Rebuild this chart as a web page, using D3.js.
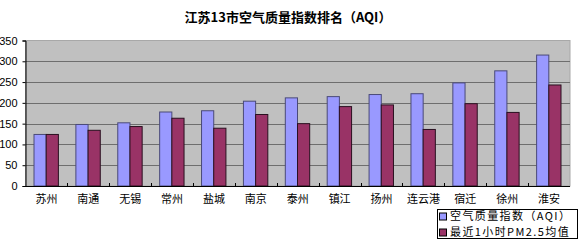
<!DOCTYPE html>
<html>
<head>
<meta charset="utf-8">
<script src="https://cdn.jsdelivr.net/npm/d3@7"></script>
<style>
  body { margin: 0; background: #fff; }
  svg { display: block; }
</style>
</head>
<body>
<div id="chart"></div>
<script>
// data
var cities = ["苏州", "南通", "无锡", "常州", "盐城", "南京", "泰州", "镇江", "扬州", "连云港", "宿迁", "徐州", "淮安"];
var aqi = [124, 148, 152, 178, 181, 204, 212, 215, 220, 222, 248, 277, 315];
var pm25 = [124, 134, 143, 163, 139, 172, 150, 191, 195, 136, 198, 177, 243];
var seriesNames = ["空气质量指数（AQI）", "最近1小时PM2.5均值"];
var yTicks = [0, 50, 100, 150, 200, 250, 300, 350];

var width = 580, height = 241;
var plotLeft = 25.5, plotRight = 570, plotTop = 40.5, plotBottom = 186;
var colors = ["#9999ff", "#993366"];
var cjk = "'Noto Sans CJK SC', sans-serif";

var svg = d3.select("#chart").append("svg")
    .attr("width", width)
    .attr("height", height);

var x = d3.scaleBand().domain(cities).range([plotLeft, plotRight]);
var x1 = d3.scaleBand().domain([0, 1]).range([8.5, x.bandwidth() - 9]);
var y = d3.scaleLinear().domain([0, 350]).range([plotBottom, plotTop]);

//title
svg.append("text")
    .attr("x", 288)
    .attr("y", 22)
    .attr("text-anchor", "middle")
    .attr("font-family", cjk)
    .style("font-size", "13px")
    .style("font-weight", "bold")
    .attr("fill", "#000")
    .text("江苏13市空气质量指数排名（AQI）");

//grey plot area
svg.append("rect")
    .attr("x", plotLeft)
    .attr("y", plotTop)
    .attr("width", plotRight - plotLeft)
    .attr("height", plotBottom - plotTop)
    .attr("fill", "#c0c0c0")
    .attr("stroke", "#a8a8a8");

//gridlines
svg.append("g")
    .selectAll("line")
    .data(yTicks.slice(1, -1))
    .enter().append("line")
    .attr("x1", plotLeft)
    .attr("x2", plotRight)
    .attr("y1", function(d) { return Math.round(y(d)) + 0.5; })
    .attr("y2", function(d) { return Math.round(y(d)) + 0.5; })
    .attr("stroke", "#6e6e6e")
    .attr("stroke-width", 1.2);

//bars
var groups = svg.append("g")
    .selectAll("g")
    .data(cities)
    .enter().append("g")
    .attr("transform", function(d) { return "translate(" + x(d) + ",0)"; });

groups.selectAll("rect")
    .data(function(d, i) { return [aqi[i], pm25[i]]; })
    .enter().append("rect")
    .attr("x", function(d, j) { return x1(j); })
    .attr("y", function(d) { return y(d); })
    .attr("width", x1.bandwidth())
    .attr("height", function(d) { return plotBottom - y(d); })
    .attr("fill", function(d, j) { return colors[j]; })
    .attr("stroke", function(d, j) { return j == 0 ? "#4a4a78" : "#2a1020"; })
    .attr("stroke-width", 1);

//y axis
var yAxis = svg.append("g")
    .attr("transform", "translate(" + plotLeft + ",0)")
    .call(d3.axisLeft(y).tickValues(yTicks).tickSize(3).tickPadding(5));
yAxis.select(".domain").attr("stroke", "#000");
yAxis.selectAll("line").attr("stroke", "#000");
yAxis.selectAll("text")
    .attr("font-family", "'Liberation Sans', Arial, sans-serif")
    .style("font-size", "11px")
    .attr("fill", "#000");

//x axis line and little ticks between categories
svg.append("line")
    .attr("x1", plotLeft)
    .attr("x2", plotRight)
    .attr("y1", plotBottom + 0.5)
    .attr("y2", plotBottom + 0.5)
    .attr("stroke", "#000");

svg.append("g")
    .selectAll("line")
    .data(cities.slice(1))
    .enter().append("line")
    .attr("x1", function(d) { return Math.round(x(d)) + 0.5; })
    .attr("x2", function(d) { return Math.round(x(d)) + 0.5; })
    .attr("y1", plotBottom - 3)
    .attr("y2", plotBottom)
    .attr("stroke", "#000");

//category labels
svg.append("g")
    .selectAll("text")
    .data(cities)
    .enter().append("text")
    .attr("x", function(d) { return x(d) + x.bandwidth() / 2; })
    .attr("y", 203)
    .attr("text-anchor", "middle")
    .attr("font-family", cjk)
    .style("font-size", "11px")
    .attr("fill", "#000")
    .text(function(d) { return d; });

//legend
var legend = svg.append("g");
legend.append("rect")
    .attr("x", 437.5)
    .attr("y", 209.5)
    .attr("width", 140)
    .attr("height", 29)
    .attr("fill", "#fff")
    .attr("stroke", "#000");

var items = legend.selectAll("g.item")
    .data(seriesNames)
    .enter().append("g")
    .attr("class", "item")
    .attr("transform", function(d, i) { return "translate(439," + (216.5 + i * 16) + ")"; });

items.append("rect")
    .attr("x", 0.5)
    .attr("y", -3.5)
    .attr("width", 7)
    .attr("height", 7)
    .attr("fill", function(d, i) { return colors[i]; })
    .attr("stroke", "#000");

items.append("text")
    .attr("x", 11)
    .attr("y", 3.8)
    .attr("font-family", cjk)
    .style("font-size", "11px")
    .style("letter-spacing", "1.4px")
    .attr("fill", "#000")
    .text(function(d) { return d; });
</script>
</body>
</html>
